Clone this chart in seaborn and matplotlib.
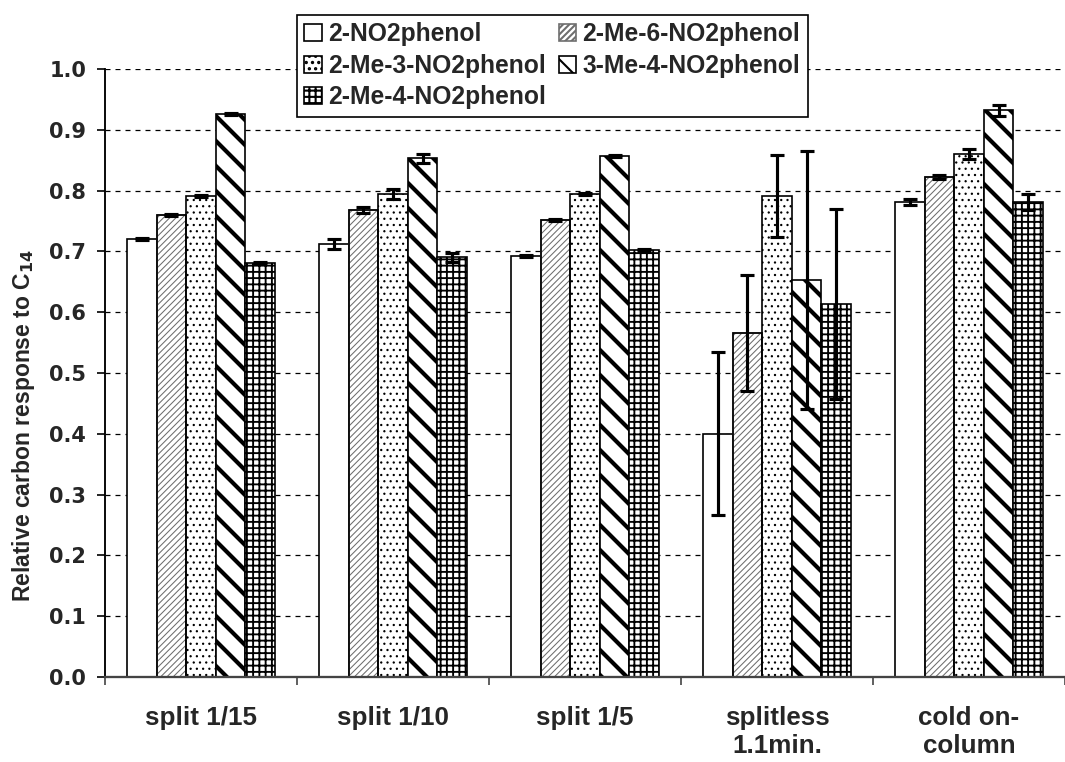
import matplotlib
matplotlib.use("Agg")
import matplotlib.pyplot as plt
from matplotlib.patches import Patch
import numpy as np
import pandas as pd
import seaborn as sns

# Injection modes (x categories) and analytes (hue levels)
methods = ["split 1/15", "split 1/10", "split 1/5", "splitless\n1.1min.", "cold on-\ncolumn"]
compounds = ["2-NO2phenol", "2-Me-6-NO2phenol", "2-Me-3-NO2phenol",
             "3-Me-4-NO2phenol", "2-Me-4-NO2phenol"]

# Relative carbon response to C14, one list per analyte
resp_2no2 = [0.720, 0.712, 0.692, 0.400, 0.781]
resp_2me6 = [0.760, 0.768, 0.752, 0.566, 0.822]
resp_2me3 = [0.791, 0.795, 0.794, 0.791, 0.860]
resp_3me4 = [0.926, 0.853, 0.857, 0.653, 0.932]
resp_2me4 = [0.681, 0.690, 0.702, 0.614, 0.781]

# Standard deviations
sd_2no2 = [0.002, 0.008, 0.002, 0.134, 0.005]
sd_2me6 = [0.002, 0.005, 0.002, 0.095, 0.003]
sd_2me3 = [0.002, 0.008, 0.002, 0.068, 0.008]
sd_3me4 = [0.002, 0.007, 0.002, 0.212, 0.009]
sd_2me4 = [0.002, 0.007, 0.002, 0.156, 0.013]

y_ticks = [0.0, 0.1, 0.2, 0.3, 0.4, 0.5, 0.6, 0.7, 0.8, 0.9, 1.0]

responses = [resp_2no2, resp_2me6, resp_2me3, resp_3me4, resp_2me4]
errors = [sd_2no2, sd_2me6, sd_2me3, sd_3me4, sd_2me4]

df = pd.DataFrame({
    "method": np.repeat([methods], len(compounds), axis=0).ravel(),
    "compound": np.repeat(compounds, len(methods)),
    "response": np.concatenate(responses),
})

# hatch pattern, hatch line width, hatch colour per analyte
styles = [
    ("", 0.5, "black"),
    ("////////", 0.5, "#6e6e6e"),
    ("....", 0.5, "black"),
    ("\\\\", 2.0, "black"),
    ("++++", 0.9, "black"),
]

sns.set_style("white")
plt.rcParams["font.family"] = ["Liberation Sans", "DejaVu Sans"]
plt.rcParams["font.weight"] = "bold"
plt.rcParams["hatch.color"] = "black"

fig = plt.figure(figsize=(7.1, 5.08), dpi=150)
ax = fig.add_axes([105 / 1065, 1 - 677 / 762, 1 - 105 / 1065, (677 - 69) / 762])

sns.barplot(data=df, x="method", y="response", hue="compound",
            order=methods, hue_order=compounds, width=0.769, gap=0,
            errorbar=None, palette=["white"] * 5, saturation=1,
            edgecolor="black", linewidth=0.8, legend=False, ax=ax, zorder=2)


def style_patch(p, hatch, hlw, hcol):
    p.set_hatch(hatch)
    if hasattr(p, "set_hatch_linewidth"):
        p.set_hatch_linewidth(hlw)
    else:
        p._hatch_linewidth = hlw
    if hasattr(p, "set_hatchcolor"):
        p.set_hatchcolor(hcol)
    elif hcol != "black":
        # older matplotlib: hatch follows the edge colour, so outline again
        p.set_edgecolor(hcol)
        return True
    return False


for cont, (hatch, hlw, hcol), resp, err in zip(ax.containers, styles, responses, errors):
    xs = []
    for p in cont:
        if style_patch(p, hatch, hlw, hcol):
            ax.add_patch(plt.Rectangle(p.get_xy(), p.get_width(), p.get_height(),
                                       fill=False, edgecolor="black",
                                       linewidth=0.8, zorder=2.5))
        xs.append(p.get_x() + p.get_width() / 2)
    ax.errorbar(xs, resp, yerr=err, fmt="none", ecolor="black",
                elinewidth=1.5, capsize=3.2, capthick=1.5, zorder=4)

# axes limits: plot area continues past the right edge of the figure
ax.set_xlim(-0.5, -0.5 + 960 / 195)
ax.set_ylim(0, 1.0)
ax.set_yticks(y_ticks)
ax.set_yticklabels([f"{v:.1f}" for v in y_ticks], fontsize=10,
                   fontweight="bold", family="DejaVu Sans")
ax.yaxis.grid(True, color="black", linestyle=(0, (4, 4)), linewidth=0.6)
ax.set_axisbelow(True)

# category boundaries carry the tick marks, labels sit at centres
ax.set_xticks(np.arange(-0.5, 5.0, 1.0))
ax.set_xticklabels([])
ax.set_xticks(np.arange(len(methods)), minor=True)
ax.set_xticklabels(methods, minor=True, fontsize=12.5, fontweight="bold",
                   linespacing=1.2)
ax.tick_params(axis="x", which="major", direction="out", length=4, width=0.8,
               color="#444444", bottom=True)
ax.tick_params(axis="x", which="minor", length=0, pad=14)
ax.tick_params(axis="y", direction="out", length=4, width=0.8, color="black",
               left=True, pad=5)
ax.set_xlabel("")
ax.set_ylabel("Relative carbon response to C$_{14}$", fontsize=11,
              fontweight="bold")
ax.yaxis.set_label_coords(-0.071, 0.414)

for side in ["top", "right"]:
    ax.spines[side].set_visible(False)
ax.spines["left"].set_color("black")
ax.spines["left"].set_linewidth(0.9)
ax.spines["bottom"].set_color("#444444")
ax.spines["bottom"].set_linewidth(1.1)

# legend, filled column by column
handles = []
for (hatch, hlw, hcol), name in zip(styles, compounds):
    h = Patch(facecolor="white", edgecolor="black", linewidth=0.8, label=name)
    style_patch(h, hatch, hlw, hcol)
    handles.append(h)
order = [0, 2, 4, 1, 3]
leg = fig.legend([handles[i] for i in order], [compounds[i] for i in order],
                 loc="upper left", bbox_to_anchor=(297 / 1065, 1 - 15 / 762),
                 ncol=2, frameon=True, fancybox=False, framealpha=1,
                 edgecolor="black", fontsize=11.8, handlelength=0.7,
                 handleheight=0.7, handletextpad=0.25, columnspacing=0.55,
                 labelspacing=0.3, borderpad=0.3, borderaxespad=0)
leg.get_frame().set_linewidth(0.8)
for t in leg.get_texts():
    t.set_fontweight("bold")

fig.savefig("out.png", dpi=150, facecolor="white")
